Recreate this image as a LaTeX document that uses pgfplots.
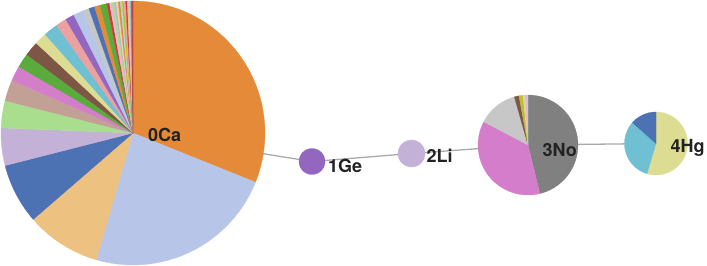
\documentclass[border=0pt]{standalone}
\usepackage{pgfplots}
\pgfplotsset{compat=1.18}
\usepackage{fontspec}
\setmainfont{TeX Gyre Heros}

\definecolor{cOrange}{HTML}{E48A38}
\definecolor{cLBlue}{HTML}{B6C5E8}
\definecolor{cTan}{HTML}{EDC17F}
\definecolor{cBlue}{HTML}{4D72B3}
\definecolor{cLilac}{HTML}{C4B1D7}
\definecolor{cLGreen}{HTML}{A9DE8E}
\definecolor{cRosy}{HTML}{C2A096}
\definecolor{cMagenta}{HTML}{D47DCB}
\definecolor{cGreen}{HTML}{5AAA3C}
\definecolor{cBrown}{HTML}{7E5646}
\definecolor{cKhaki}{HTML}{DCDC93}
\definecolor{cCyan}{HTML}{70C0D3}
\definecolor{cSalmon}{HTML}{ECA1A0}
\definecolor{cPurple}{HTML}{9366BF}
\definecolor{cGray}{HTML}{C7C7C7}
\definecolor{cDGray}{HTML}{808080}
\definecolor{cRed}{HTML}{D2393A}
\definecolor{cPink}{HTML}{F2B6D0}
\definecolor{cOlive}{HTML}{BDBE32}
\definecolor{cLCyan}{HTML}{A3D9E3}
\definecolor{cLink}{HTML}{AAAAAA}
\definecolor{cText}{HTML}{222222}

\tikzset{lbl/.style={font=\fontsize{18bp}{20bp}\selectfont\bfseries, text=cText, inner sep=0pt, anchor=base west}}

% \pie{cx}{cy}{r}{value/colour list (values in percent, clockwise from 12 o'clock)}
\newcommand\pie[4]{%
  \gdef\startang{0}%
  \foreach \v/\col in {#4} {%
    \pgfmathsetmacro\endang{\startang+3.6*\v}%
    \edef\temp{\noexpand\addplot[fill=\col, draw=\col, line width=0.25pt,
      domain=\startang:\endang, samples=40, variable=\noexpand\t]
      ({#1+#3*sin(\noexpand\t)}, {#2-#3*cos(\noexpand\t)}) -- (axis cs:#1,#2) -- cycle;}%
    \temp
    \xdef\startang{\endang}%
  }%
}

\begin{document}
\begin{tikzpicture}
\begin{axis}[
  width=707bp, height=265bp, scale only axis,
  xmin=0, xmax=707, ymin=0, ymax=265, y dir=reverse,
  hide axis, clip=false,
]
% invisible frame for the bounding box
\addplot[draw=none] coordinates {(0,0) (707,265)};
% links between the nodes
\addplot[cLink, line width=1.3bp] coordinates {(133,133) (312,161.5) (411.5,153.5) (528,145) (656,143.5)};

% node 0Ca
\pie{133}{133}{132}{31.08/cOrange, 23.42/cLBlue, 9.14/cTan, 7.39/cBlue, 4.58/cLilac,
  3.33/cLGreen, 2.61/cRosy, 1.83/cMagenta, 1.75/cGreen, 1.78/cBrown, 1.50/cKhaki,
  1.78/cCyan, 1.31/cSalmon, 1.11/cPurple, 1.22/cLBlue, 0.75/cGray, 0.72/cBlue,
  0.69/cOrange, 0.83/cGreen, 0.33/cRed, 0.28/cPink, 0.28/cLGreen, 0.25/cLilac,
  0.25/cKhaki, 0.25/cOrange, 0.22/cLCyan, 0.22/cOlive, 0.22/cSalmon, 0.19/cRed,
  0.17/cTan, 0.17/cGray, 0.14/cCyan, 0.11/cBrown, 0.10/cRed}
% node 1Ge
\pie{312}{161.5}{13}{100/cPurple}
% node 2Li
\pie{411.5}{153.5}{13.5}{100/cLilac}
% node 3No
\pie{528}{145}{50}{46.2/cDGray, 36.5/cMagenta, 12.9/cGray, 1.5/cBrown, 1.3/cOlive, 0.5/cKhaki, 0.7/cPink, 0.4/cLCyan}
% node 4Hg
\pie{656}{143.5}{31.5}{54.6/cKhaki, 31.9/cCyan, 13.5/cBlue}

\node[lbl] at (axis cs:148,141) {0Ca};
\node[lbl] at (axis cs:328,172) {1Ge};
\node[lbl] at (axis cs:426.5,162) {2Li};
\node[lbl] at (axis cs:542.5,156) {3No};
\node[lbl] at (axis cs:670.5,152) {4Hg};
\end{axis}
\end{tikzpicture}
\end{document}
